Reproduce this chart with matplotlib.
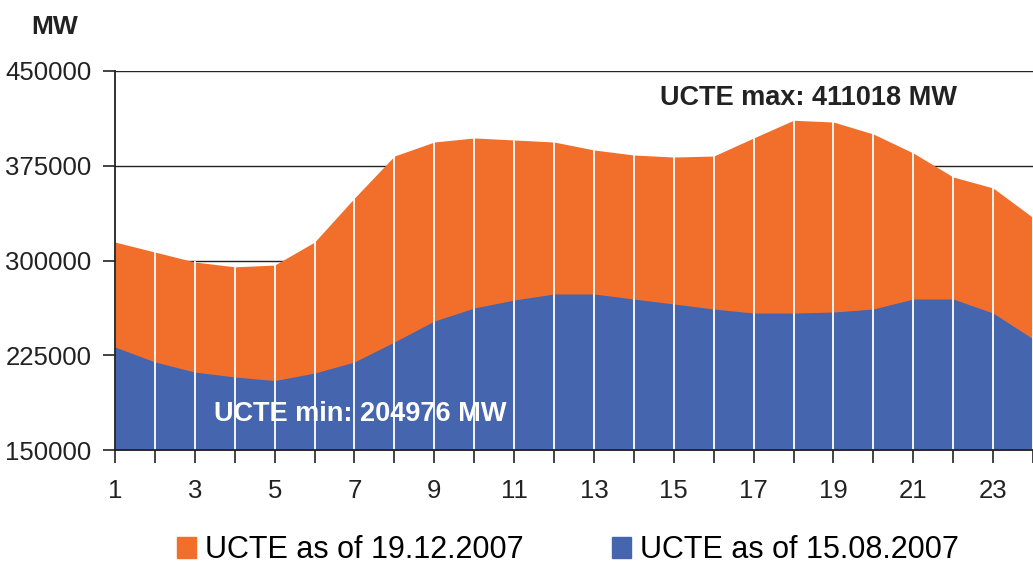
import numpy as np
import matplotlib
matplotlib.use('Agg')
import matplotlib.pyplot as plt
from matplotlib.patches import Patch

hours = list(range(1, 25))
dec_2007 = [314600, 306700, 298800, 295000, 296400, 314600, 349500, 382700,
            393800, 397000, 395400, 393800, 387500, 383500, 381900, 382700,
            397000, 411018, 409600, 400100, 385100, 366100, 357400, 334000]
aug_2007 = [231500, 219700, 211700, 207800, 204976, 210900, 219700, 235500,
            252100, 262400, 268700, 273500, 273500, 269500, 265600, 261600,
            258400, 258400, 259200, 261600, 269500, 269500, 258400, 238000]
yticks = [150000, 225000, 300000, 375000, 450000]
xticks = list(range(1, 25))
xlabels = [str(h) if h % 2 == 1 else '' for h in xticks]
labels = ['UCTE as of 19.12.2007', 'UCTE as of 15.08.2007']

ORANGE = '#F26F2B'
BLUE = '#4565AE'
DARK = '#222222'

plt.rcParams['font.family'] = ['Liberation Sans', 'DejaVu Sans']

fig = plt.figure(figsize=(10.33, 5.67), dpi=100)
ax = fig.add_axes([115/1033, 1 - 450/567, 1 - 115/1033, (450 - 71)/567])

ax.fill_between(hours, 150000, dec_2007, color=ORANGE, lw=0, zorder=2)
ax.fill_between(hours, 150000, aug_2007, color=BLUE, lw=0, zorder=3)
# white hour separators
for h, top in zip(hours[1:], dec_2007[1:]):
    ax.plot([h, h], [150000, top], color='white', lw=1.3, zorder=4)

for y in yticks[1:]:
    ax.axhline(y, color=DARK, lw=1.0, zorder=1)

ax.set_xlim(1, 23.67)
ax.set_ylim(150000, 450000)
ax.set_yticks(yticks)
ax.set_yticklabels([str(v) for v in yticks], fontsize=18.5, color=DARK)
ax.set_xticks(xticks)
ax.set_xticklabels(xlabels, fontsize=18.5, color=DARK)
ax.tick_params(axis='both', direction='out', length=9, width=1.2, color=DARK)
ax.tick_params(axis='x', pad=12)
ax.tick_params(axis='y', pad=8)
for s in ['top', 'right']:
    ax.spines[s].set_visible(False)
for s in ['left', 'bottom']:
    ax.spines[s].set_linewidth(1.3)
    ax.spines[s].set_color(DARK)
    ax.spines[s].set_zorder(5)

ax.text(18.37, 428600, 'UCTE max: 411018 MW', fontsize=19.5, fontweight='bold',
        color=DARK, ha='center', va='center', zorder=6)
ax.text(7.15, 178500, 'UCTE min: 204976 MW', fontsize=19.5, fontweight='bold',
        color='white', ha='center', va='center', zorder=6)
fig.text(55/1033, 1 - 27/567, 'MW', fontsize=19, fontweight='bold',
         color=DARK, ha='center', va='center')

handles = [Patch(color=ORANGE), Patch(color=BLUE)]
fig.legend(handles, labels, loc='center left', bbox_to_anchor=(177/1033, 1 - 550/567), ncol=2,
           frameon=False, fontsize=22, handlelength=0.62, handleheight=0.7,
           handletextpad=0.3, columnspacing=2.9, borderpad=0, borderaxespad=0)

fig.savefig('out.png', dpi=100)
